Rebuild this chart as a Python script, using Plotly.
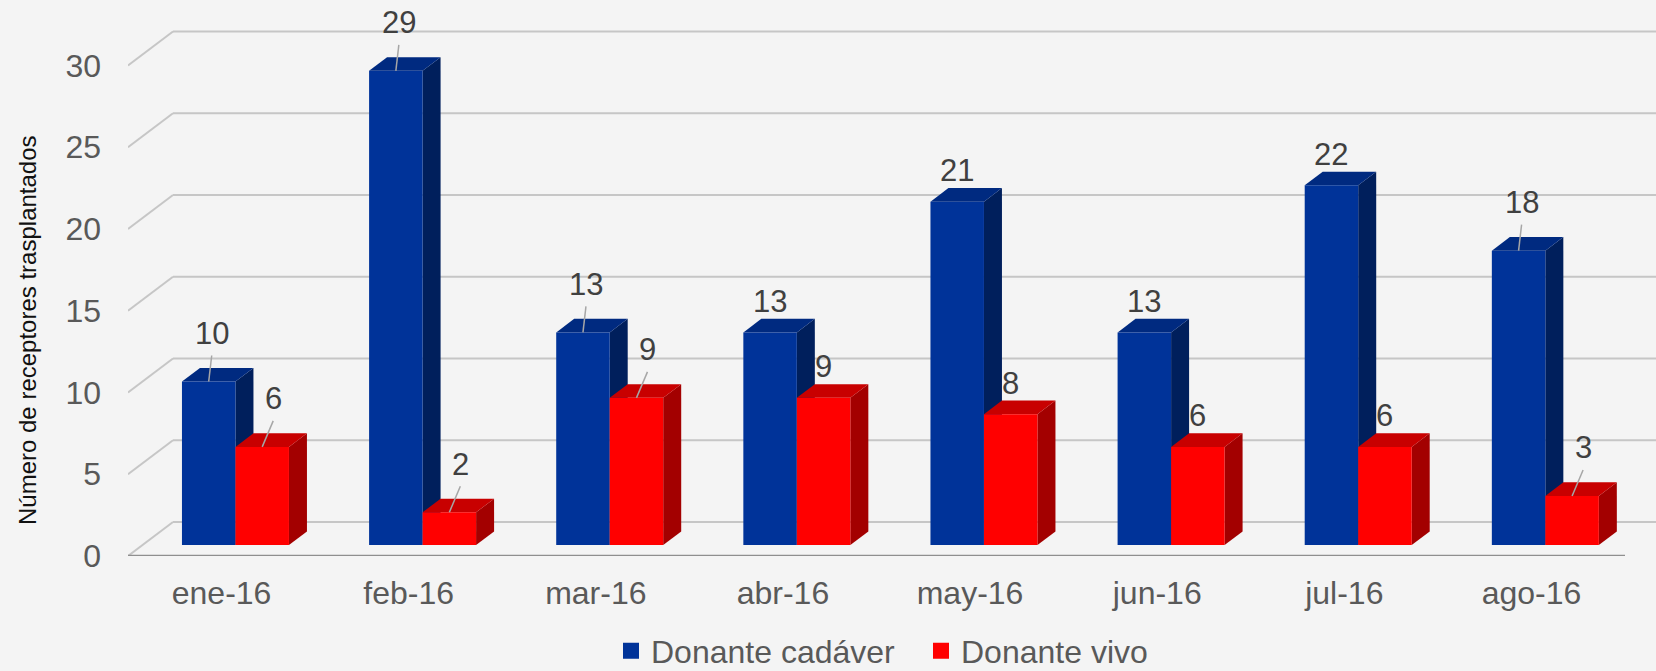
import plotly.graph_objects as go

# ---------------- data ----------------
CATEGORIES = ["ene-16", "feb-16", "mar-16", "abr-16", "may-16", "jun-16", "jul-16", "ago-16"]
CADAVER = [10, 29, 13, 13, 21, 13, 22, 18]
VIVO = [6, 2, 9, 9, 8, 6, 6, 3]
SERIES_NAMES = ["Donante cadáver", "Donante vivo"]
Y_TICKS = [0, 5, 10, 15, 20, 25, 30]
Y_TITLE = "Número de receptores trasplantados"

# ---------------- style / geometry ----------------
W, H = 1656, 671
M_L, M_R, M_T, M_B = 128, 0, 5, 115
PLOT_W = W - M_L - M_R
PLOT_H = H - M_T - M_B
PX_CAT = 187.125            # pixels per category on the front axis
PX_UNIT = 16.35             # pixels per value unit
FRONT_DROP = 11 / PX_UNIT   # front plane below bar plane
BACK_RISE = 23 / PX_UNIT    # back wall above bar plane
BACK_SHIFT = 45 / PX_CAT    # back wall right shift
DEPTH_X = 18 / PX_CAT       # bar depth (x)
DEPTH_Y = 13.6 / PX_UNIT    # bar depth (y)
BAR_W = 53.5 / PX_CAT
OFFSETS = [-39.6 / PX_CAT, -39.6 / PX_CAT + 53.5 / PX_CAT]
LEADER = [True, True, True, False, False, False, False, True]  # label with leader line
FRONT = ["#003399", "#ff0000"]
SIDE = ["#001f5c", "#a30000"]
TOP = ["#002a80", "#c80000"]
FONT = "Arial, 'Liberation Sans', sans-serif"

x_min = -0.5
x_max = -0.5 + PLOT_W / PX_CAT
y_min = -FRONT_DROP
y_max = y_min + PLOT_H / PX_UNIT

fig = go.Figure()
values = [CADAVER, VIVO]
for s, (name, vals) in enumerate(zip(SERIES_NAMES, values)):
    fig.add_trace(go.Bar(
        x=CATEGORIES, y=vals, name=name, offset=OFFSETS[s], width=BAR_W,
        marker=dict(color=FRONT[s], line=dict(width=0)), showlegend=False,
        hovertemplate="%{x}<br>" + name + ": %{y}<extra></extra>"))
    # legend proxy with a larger square
    fig.add_trace(go.Scatter(
        x=[None], y=[None], mode="markers", name=name,
        marker=dict(symbol="square", size=16, color=FRONT[s]), hoverinfo="skip"))

# dummy trace to activate the front-plane tick axis
fig.add_trace(go.Scatter(x=[CATEGORIES[0]], y=[0], yaxis="y2", mode="markers",
                         marker=dict(opacity=0), showlegend=False, hoverinfo="skip"))

shapes = []
annotations = []
grid_col = "#c6c6c6"
# perspective gridlines
for v in Y_TICKS:
    shapes.append(dict(type="line", xref="x", yref="y", layer="below",
                       x0=x_min + BACK_SHIFT, x1=x_max, y0=v + BACK_RISE, y1=v + BACK_RISE,
                       line=dict(color=grid_col, width=2)))
    shapes.append(dict(type="line", xref="x", yref="y", layer="below",
                       x0=x_min, x1=x_min + BACK_SHIFT, y0=v - FRONT_DROP, y1=v + BACK_RISE,
                       line=dict(color=grid_col, width=2)))
# front floor line
shapes.append(dict(type="line", xref="x", yref="y", layer="below",
                   x0=x_min, x1=x_min + len(CATEGORIES) * 1.0, y0=-FRONT_DROP, y1=-FRONT_DROP,
                   line=dict(color="#8f8f8f", width=2.5)))

# 3D faces and labels
for s, vals in enumerate(values):
    for i, v in enumerate(vals):
        xl = i + OFFSETS[s]
        xr = xl + BAR_W
        side = (f"M {xr},0 L {xr + DEPTH_X},{DEPTH_Y} L {xr + DEPTH_X},{v + DEPTH_Y} "
                f"L {xr},{v} Z")
        top = (f"M {xl},{v} L {xl + DEPTH_X},{v + DEPTH_Y} L {xr + DEPTH_X},{v + DEPTH_Y} "
               f"L {xr},{v} Z")
        shapes.append(dict(type="path", path=side, xref="x", yref="y", layer="below",
                           fillcolor=SIDE[s], line=dict(width=0)))
        shapes.append(dict(type="path", path=top, xref="x", yref="y", layer="below",
                           fillcolor=TOP[s], line=dict(width=0)))
        xc = (xl + xr) / 2
        if LEADER[i]:
            dx = (3 if s == 0 else 11) / PX_CAT
            shapes.append(dict(type="line", xref="x", yref="y", layer="above",
                               x0=xc, y0=v, x1=xc + dx, y1=v + 26 / PX_UNIT,
                               line=dict(color="#a6a6a6", width=1.5)))
            ly = v + 48 / PX_UNIT
            lx = xc + dx
        else:
            ly = v + 31 / PX_UNIT
            lx = xc
        annotations.append(dict(x=lx, y=ly, xref="x", yref="y", text=str(v),
                                showarrow=False, yanchor="middle", xanchor="center",
                                font=dict(family=FONT, size=31, color="#404040")))

annotations.append(dict(x=(27 - M_L) / PLOT_W, y=(H - M_B - 330) / PLOT_H,
                        xref="paper", yref="paper", text=Y_TITLE, textangle=-90,
                        showarrow=False, xanchor="center", yanchor="middle",
                        font=dict(family=FONT, size=24, color="#111111")))

fig.update_layout(
    width=W, height=H,
    margin=dict(l=M_L, r=M_R, t=M_T, b=M_B, pad=0, autoexpand=False),
    paper_bgcolor="#f4f4f4", plot_bgcolor="rgba(0,0,0,0)",
    barmode="overlay",
    font=dict(family=FONT, color="#595959"),
    xaxis=dict(type="category", categoryorder="array", categoryarray=CATEGORIES,
               range=[x_min, x_max], showgrid=False, zeroline=False, showline=False,
               ticks="", tickfont=dict(size=32, color="#595959"), ticklabelstandoff=15,
               automargin=False, fixedrange=True),
    yaxis=dict(range=[y_min, y_max], showgrid=False, zeroline=False, showline=False,
               showticklabels=False, ticks="", automargin=False, fixedrange=True),
    yaxis2=dict(overlaying="y", side="left", range=[0, y_max - y_min],
                tickvals=Y_TICKS, showgrid=False, zeroline=False, showline=False,
                ticks="", tickfont=dict(size=32, color="#595959"),
                ticklabelstandoff=26, automargin=False, fixedrange=True),
    legend=dict(orientation="h", x=(611 - M_L) / PLOT_W, xanchor="left",
                y=(H - M_B - 651) / PLOT_H, yanchor="middle",
                entrywidth=265, entrywidthmode="pixels",
                font=dict(family=FONT, size=32, color="#595959"),
                bgcolor="rgba(0,0,0,0)", itemclick=False, itemdoubleclick=False),
    shapes=shapes, annotations=annotations,
)

fig.write_html("out.html", config={"displayModeBar": False},
               post_script="document.body.style.margin='0';"
                           "document.body.style.overflow='hidden';")
